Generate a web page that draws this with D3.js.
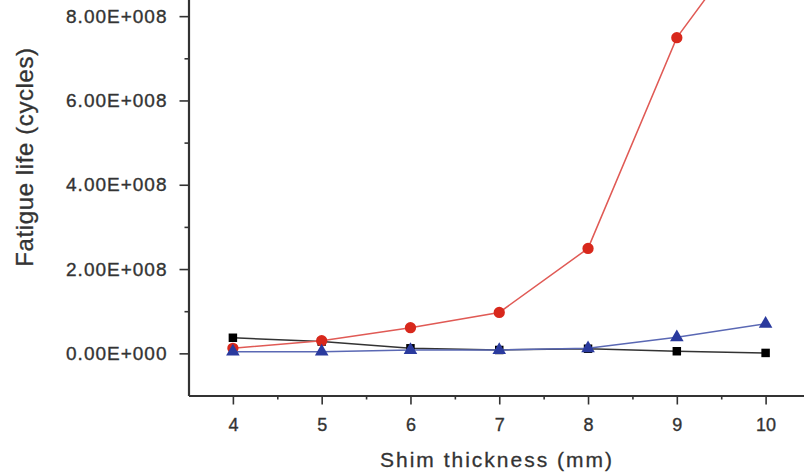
<!DOCTYPE html>
<html>
<head>
<meta charset="utf-8">
<script src="https://cdn.jsdelivr.net/npm/d3@7"></script>
<style>
  html, body { margin: 0; padding: 0; background: #fff; }
  svg { display: block; }
</style>
</head>
<body>
<script>
var thickness = [4, 5, 6, 7, 8, 9, 10];
var blackLife = [3.7e7, 2.8e7, 1.2e7, 8e6, 1.1e7, 5e6, 1e6];
var redLife = [1.2e7, 3.0e7, 6.1e7, 9.7e7, 2.49e8, 7.49e8, 1.035e9];
var blueLife = [4e6, 4e6, 8e6, 8e6, 1.2e7, 3.8e7, 7.0e7];

var yMajor = [0, 2e8, 4e8, 6e8, 8e8];
var yMinor = [1e8, 3e8, 5e8, 7e8];
var xMinor = [4.5, 5.5, 6.5, 7.5, 8.5, 9.5];

var width = 804, height = 476;

var svg = d3.select('body').append('svg')
  .attr('width', width)
  .attr('height', height);

var x = d3.scaleLinear().domain([3.5, 10.5]).range([188.5, 810]);
var y = d3.scaleLinear().domain([-1e8, 9e8]).range([395.5, -26]);

// label like "2.00E+008"
function sci(d) {
  if (d === 0) return '0.00E+000';
  return (d / 1e8).toFixed(2) + 'E+008';
}

var axisColor = '#333';
var font = 'Liberation Sans, Arial, sans-serif';

// minor ticks first, then the main axes on top
svg.append('g')
  .attr('transform', 'translate(' + x(3.5) + ',0)')
  .call(d3.axisLeft(y).tickValues(yMinor).tickSize(4).tickFormat(''))
  .call(function (g) { g.select('.domain').remove(); });

svg.append('g')
  .attr('transform', 'translate(0,' + y(-1e8) + ')')
  .call(d3.axisBottom(x).tickValues(xMinor).tickSize(4).tickFormat(''))
  .call(function (g) { g.select('.domain').remove(); });

var yAxis = svg.append('g')
  .attr('transform', 'translate(' + x(3.5) + ',0)')
  .call(d3.axisLeft(y).tickValues(yMajor).tickSize(9).tickSizeOuter(0).tickPadding(12).tickFormat(sci));

var xAxis = svg.append('g')
  .attr('transform', 'translate(0,' + y(-1e8) + ')')
  .call(d3.axisBottom(x).tickValues(thickness).tickSize(9).tickSizeOuter(0).tickPadding(14).tickFormat(d3.format('d')));

svg.selectAll('.tick line').attr('stroke', axisColor).attr('stroke-width', 1.6);
svg.selectAll('.domain').attr('stroke', axisColor).attr('stroke-width', 2.2);

yAxis.selectAll('text')
  .attr('fill', '#333')
  .attr('stroke', '#333')
  .attr('stroke-width', 0.35)
  .style('font-family', font)
  .style('font-size', '19px')
  .style('letter-spacing', '1px');

xAxis.selectAll('text')
  .attr('fill', '#333')
  .attr('stroke', '#333')
  .attr('stroke-width', 0.35)
  .style('font-family', font)
  .style('font-size', '18px');

// axis titles
svg.append('text')
  .attr('transform', 'translate(33,157) rotate(-90)')
  .attr('text-anchor', 'middle')
  .attr('fill', '#333')
  .attr('stroke', '#333')
  .attr('stroke-width', 0.3)
  .style('font-family', font)
  .style('font-size', '24px')
  .style('letter-spacing', '0.6px')
  .text('Fatigue life (cycles)');

svg.append('text')
  .attr('x', 497)
  .attr('y', 467)
  .attr('text-anchor', 'middle')
  .attr('fill', '#333')
  .attr('stroke', '#333')
  .attr('stroke-width', 0.3)
  .style('font-family', font)
  .style('font-size', '21px')
  .style('letter-spacing', '2px')
  .text('Shim thickness (mm)');

var line = d3.line()
  .x(function (d) { return x(d[0]); })
  .y(function (d) { return y(d[1]); });

function pairs(vals) {
  return thickness.map(function (t, i) { return [t, vals[i]]; });
}

var series = [
  { name: 'black', values: blackLife, line: '#333', fill: '#000', shape: d3.symbolSquare, size: 72 },
  { name: 'red', values: redLife, line: '#e05a55', fill: '#d8281c', shape: d3.symbolCircle, size: 100 },
  { name: 'blue', values: blueLife, line: '#5a68b4', fill: '#2a3a9e', shape: d3.symbolTriangle, size: 80 }
];

series.forEach(function (s) {
  var pts = pairs(s.values);

  svg.append('path')
    .datum(pts)
    .attr('fill', 'none')
    .attr('stroke', s.line)
    .attr('stroke-width', 1.5)
    .attr('d', line);

  svg.selectAll('.pt-' + s.name)
    .data(pts)
    .enter().append('path')
    .attr('class', 'pt-' + s.name)
    .attr('transform', function (d) { return 'translate(' + x(d[0]) + ',' + y(d[1]) + ')'; })
    .attr('d', d3.symbol().type(s.shape).size(s.size))
    .attr('fill', s.fill);
});
</script>
</body>
</html>
